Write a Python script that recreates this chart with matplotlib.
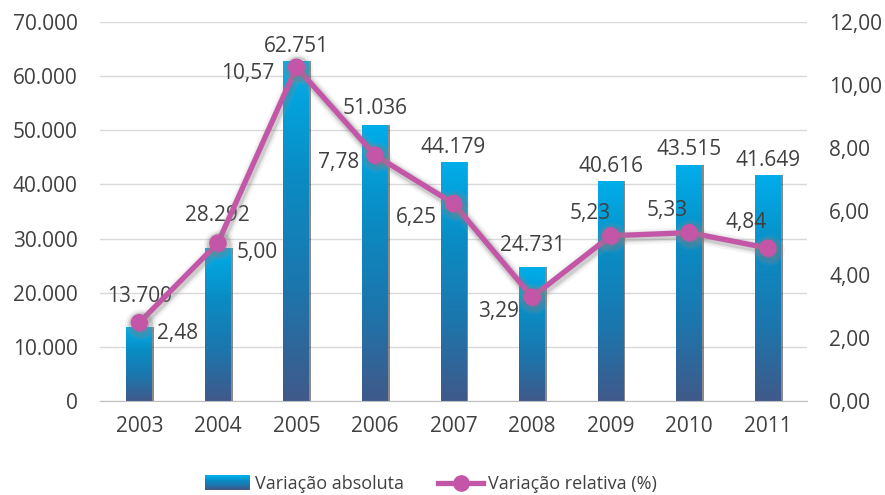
import matplotlib
matplotlib.use("Agg")
import matplotlib.pyplot as plt
import numpy as np
from matplotlib.colors import LinearSegmentedColormap
from matplotlib.patches import Patch, Rectangle
from matplotlib.lines import Line2D
from matplotlib.legend_handler import HandlerBase
import matplotlib.patheffects as pe

years = ["2003", "2004", "2005", "2006", "2007", "2008", "2009", "2010", "2011"]
absolute = [13700, 28292, 62751, 51036, 44179, 24731, 40616, 43515, 41649]
relative = [2.48, 5.00, 10.57, 7.78, 6.25, 3.29, 5.23, 5.33, 4.84]
left_ticks = [0, 10000, 20000, 30000, 40000, 50000, 60000, 70000]
right_ticks = [0, 2, 4, 6, 8, 10, 12]

# label placement (pixels): centre of digits relative to anchor
bar_label_dy = [32, 34, 17, 18, 16, 24, 17, 18, 17]
rel_label_off = [(38, -9), (39, -7), (-49, -4), (-36, -5), (-37, -12), (-34, -12), (-21, 24), (-22, 24), (-22, 28)]

plt.rcParams['font.family'] = ['Open Sans', 'DejaVu Sans']
txt = '#404040'
FS = 15
PX = 0.72  # points per pixel at dpi 100
HALF_DIGIT = 7.5

fig = plt.figure(figsize=(8.85, 4.95), dpi=100)
ax = fig.add_axes([0.113, 0.19, 0.799, 0.7656])
x = np.arange(len(years))

colors = ['#40598a', '#1c76ad', '#0a8cc4', '#00aeea']
cmap = LinearSegmentedColormap.from_list('g', colors)
grad = np.linspace(0, 1, 256).reshape(-1, 1)

bars = ax.bar(x, absolute, width=0.33, color='none', edgecolor='none', zorder=2)
for r in bars:
    ax.add_patch(Rectangle((r.get_x() + 0.022, 0), r.get_width(), r.get_height(),
                           color='#2a2a2a', alpha=0.55, zorder=1.9, lw=0))
    im = ax.imshow(grad, cmap=cmap, aspect='auto', origin='lower',
                   extent=[r.get_x(), r.get_x() + r.get_width(), 0, r.get_height()], zorder=2)
    im.set_clip_path(r)
ax.set_xlim(-0.5, len(years) - 0.5)
ax.set_ylim(0, 70000)

ax.set_yticks(left_ticks)
ax.set_yticklabels([f"{v:,}".replace(",", ".") for v in left_ticks])
ax.set_xticks(x)
ax.set_xticklabels(years)
ax.grid(axis='y', color='#d9d9d9', lw=1, zorder=0)
ax.set_axisbelow(True)
for s in ['top', 'right', 'left']:
    ax.spines[s].set_visible(False)
ax.spines['bottom'].set_color('#bfbfbf')
ax.tick_params(length=0, labelsize=FS, colors=txt)
ax.tick_params(axis='x', pad=11)
ax.tick_params(axis='y', pad=16)

for xi, v, dy in zip(x, absolute, bar_label_dy):
    ax.annotate(f"{v:,}".replace(",", "."), (xi, v), xytext=(0, (dy - HALF_DIGIT) * PX),
                textcoords='offset points', ha='center', va='baseline', fontsize=FS, color=txt, zorder=5)

ax2 = ax.twinx()
ax2.set_ylim(0, 12)
ax2.set_yticks(right_ticks)
ax2.set_yticklabels([f"{v:.2f}".replace(".", ",") for v in right_ticks])
for s in ax2.spines.values():
    s.set_visible(False)
ax2.tick_params(length=0, labelsize=FS, colors=txt, pad=16)

line_color = '#c456a8'
ax2.plot(x, relative, color=line_color, lw=3.8, marker='o', ms=11.5, zorder=4,
         path_effects=[pe.Stroke(linewidth=11, foreground='#999999', alpha=0.10, offset=(1, -1.5)),
                       pe.Stroke(linewidth=8, foreground='#888888', alpha=0.15, offset=(1, -1.5)),
                       pe.Stroke(linewidth=6, foreground='#777777', alpha=0.2, offset=(1, -1.5)),
                       pe.Normal()])
for xi, v, (dx, dy) in zip(x, relative, rel_label_off):
    ax2.annotate(f"{v:.2f}".replace(".", ","), (xi, v), xytext=(dx * PX, (dy - HALF_DIGIT) * PX),
                 textcoords='offset points', ha='center', va='baseline', fontsize=FS, color=txt, zorder=5)


class GradientHandler(HandlerBase):
    def create_artists(self, legend, orig_handle, xdescent, ydescent, width, height, fontsize, trans):
        n = 30
        arts = []
        h = height * 1.1
        y0 = -ydescent - (h - height) / 2
        for i in range(n):
            c = cmap(i / (n - 1))
            arts.append(Rectangle((-xdescent, y0 + h * i / n), width, h / n + 0.3,
                                  facecolor=c, edgecolor='none', transform=trans))
        return arts


LFS = 13
bar_handle = Patch(facecolor='#1584bd', edgecolor='none', label='Variação absoluta')
line_handle = Line2D([0], [0], color=line_color, lw=3.8, marker='o', ms=11, label='Variação relativa (%)')
fig.legend(handles=[bar_handle, line_handle], loc='center', bbox_to_anchor=(0.487, 0.022), ncol=2, frameon=False,
           fontsize=LFS, labelcolor=txt, handlelength=2.5, handletextpad=0.28, columnspacing=1.9,
           handler_map={Patch: GradientHandler()})

fig.savefig('out.png', dpi=100)
